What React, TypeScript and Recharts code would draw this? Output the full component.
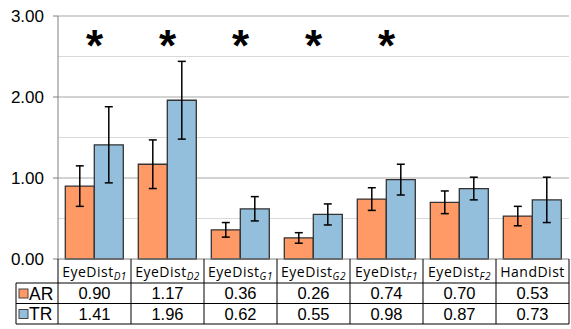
import React from "react";
import {
  ComposedChart,
  Bar,
  Line,
  XAxis,
  YAxis,
  CartesianGrid,
  ErrorBar,
} from "recharts";

const CATEGORY_NAMES = ["EyeDist", "EyeDist", "EyeDist", "EyeDist", "EyeDist", "EyeDist", "HandDist"];
const CATEGORY_SUBS = ["D1", "D2", "G1", "G2", "F1", "F2", ""];
const AR_VALUES = [0.9, 1.17, 0.36, 0.26, 0.74, 0.7, 0.53];
const TR_VALUES = [1.41, 1.96, 0.62, 0.55, 0.98, 0.87, 0.73];
const AR_ERRORS = [0.25, 0.3, 0.09, 0.065, 0.14, 0.14, 0.12];
const TR_ERRORS = [0.47, 0.48, 0.15, 0.13, 0.19, 0.14, 0.28];
const SIGNIFICANT = [true, true, true, true, true, false, false];
const STAR_LEVEL = 2.75;
const Y_TICKS = [0, 1, 2, 3];
const MAJOR_GRID = [1, 2, 3];
const MINOR_GRID = [0.5, 1.5, 2.5];

const AR_COLOR = "#FF9A66";
const TR_COLOR = "#93BEDC";
const TABLE_LINE = "#000";
const FONT = "'Liberation Sans', Arial, sans-serif";
const LABEL_FONT = "'Open Sans', sans-serif";

const data = CATEGORY_NAMES.map((name, i) => ({
  name: name + CATEGORY_SUBS[i],
  ar: AR_VALUES[i],
  tr: TR_VALUES[i],
  arErr: AR_ERRORS[i],
  trErr: TR_ERRORS[i],
  star: SIGNIFICANT[i] ? STAR_LEVEL : null,
}));

// rows of the data table under the axis (offsets from the axis line)
const HEADER_H = 24;
const ROW_H = 20.5;

function TableTick(props: any) {
  const { x, y, index, width, visibleTicksCount } = props;
  const band = width && visibleTicksCount ? width / visibleTicksCount : 511 / 7;
  const left = x - band / 2;
  const right = x + band / 2;
  const y0 = y;
  const r1 = y0 + HEADER_H;
  const r2 = r1 + ROW_H;
  const r3 = r2 + ROW_H;
  const sub = CATEGORY_SUBS[index];
  return (
    <g>
      <line x1={right} x2={right} y1={y0} y2={r3} stroke={TABLE_LINE} />
      {index === 0 && <line x1={left} x2={left} y1={y0} y2={r3} stroke={TABLE_LINE} />}
      <line x1={left} x2={right} y1={r1} y2={r1} stroke={TABLE_LINE} />
      <line x1={left} x2={right} y1={r2} y2={r2} stroke={TABLE_LINE} />
      <line x1={left} x2={right} y1={r3} y2={r3} stroke={TABLE_LINE} />
      <text
        x={x}
        y={y0 + 17.5}
        textAnchor="middle"
        fontFamily={LABEL_FONT}
        fontSize={14}
        letterSpacing={0.5}
        fill="#000"
      >
        {CATEGORY_NAMES[index]}
        {sub && (
          <tspan fontSize={10} fontStyle="italic" dy={3}>
            {sub}
          </tspan>
        )}
      </text>
      <text x={x} y={r1 + 16} textAnchor="middle" fontFamily={FONT} fontSize={16.5} fill="#000">
        {AR_VALUES[index].toFixed(2)}
      </text>
      <text x={x} y={r2 + 16} textAnchor="middle" fontFamily={FONT} fontSize={16.5} fill="#000">
        {TR_VALUES[index].toFixed(2)}
      </text>
      {index === 0 && (
        <g>
          <line x1={left - 42} x2={left} y1={r1} y2={r1} stroke={TABLE_LINE} />
          <line x1={left - 42} x2={left} y1={r2} y2={r2} stroke={TABLE_LINE} />
          <line x1={left - 42} x2={left} y1={r3} y2={r3} stroke={TABLE_LINE} />
          <line x1={left - 42} x2={left - 42} y1={r1} y2={r3} stroke={TABLE_LINE} />
          <rect x={left - 39} y={r1 + 6} width={9} height={9} fill={AR_COLOR} stroke="#444" />
          <text x={left - 29} y={r1 + 16.5} fontFamily={FONT} fontSize={17.5} fill="#000">
            AR
          </text>
          <rect x={left - 39} y={r2 + 6} width={9} height={9} fill={TR_COLOR} stroke="#444" />
          <text x={left - 29} y={r2 + 16.5} fontFamily={FONT} fontSize={17.5} fill="#000">
            TR
          </text>
        </g>
      )}
    </g>
  );
}

function StarDot(props: any) {
  const { cx, cy, payload } = props;
  if (payload.star == null || cx == null || cy == null) return <g />;
  return (
    <text
      x={cx}
      y={cy + 25}
      textAnchor="middle"
      fontFamily={FONT}
      fontWeight="bold"
      fontSize={44}
      fill="#000"
    >
      *
    </text>
  );
}

export default function App() {
  return (
    <div style={{ position: "absolute", left: 0, top: 0, background: "#fff" }}>
      <ComposedChart
        width={571}
        height={329}
        data={data}
        margin={{ top: 16, right: 2, bottom: 0, left: 8 }}
        barCategoryGap="10%"
        barGap={0}
      >
        <CartesianGrid vertical={false} horizontalValues={MINOR_GRID} stroke="#d9d9d9" />
        <CartesianGrid vertical={false} horizontalValues={MAJOR_GRID} stroke="#a6a6a6" />
        <XAxis
          dataKey="name"
          height={70}
          interval={0}
          tickLine={false}
          tickSize={0}
          tickMargin={0}
          axisLine={{ stroke: "#808080" }}
          tick={<TableTick />}
        />
        <YAxis
          width={50}
          domain={[0, 3]}
          ticks={Y_TICKS}
          tickFormatter={(v: number) => v.toFixed(2)}
          tickSize={5}
          tickMargin={9}
          axisLine={{ stroke: "#808080" }}
          tickLine={{ stroke: "#808080" }}
          tick={{ fill: "#000", fontSize: 17, fontFamily: FONT }}
        />
        <Bar dataKey="ar" fill={AR_COLOR} stroke="#333" strokeWidth={1.3} isAnimationActive={false}>
          <ErrorBar dataKey="arErr" width={4} stroke="#000" strokeWidth={1.5} />
        </Bar>
        <Bar dataKey="tr" fill={TR_COLOR} stroke="#333" strokeWidth={1.3} isAnimationActive={false}>
          <ErrorBar dataKey="trErr" width={4} stroke="#000" strokeWidth={1.5} />
        </Bar>
        <Line
          dataKey="star"
          stroke="none"
          dot={<StarDot />}
          activeDot={false}
          isAnimationActive={false}
          connectNulls={false}
        />
      </ComposedChart>
    </div>
  );
}
